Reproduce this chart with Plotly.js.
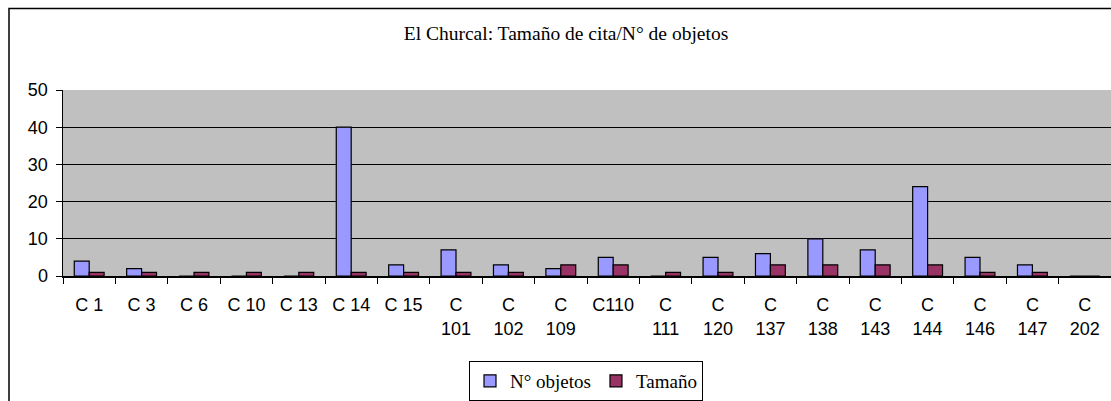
<!DOCTYPE html>
<html>
<head>
<meta charset="utf-8">
<script src="https://cdn.plot.ly/plotly-3.0.1.min.js"></script>
<style>
html,body{margin:0;padding:0;background:#fff;overflow:hidden;}
#chart{width:1111px;height:401px;}
</style>
</head>
<body>
<div id="chart"></div>
<script>
var categories = ["C 1","C 3","C 6","C 10","C 13","C 14","C 15","C<br>101","C<br>102","C<br>109","C110","C<br>111","C<br>120","C<br>137","C<br>138","C<br>143","C<br>144","C<br>146","C<br>147","C<br>202"];
var numObjetos = [4,2,0,0,0,40,3,7,3,2,5,0,5,6,10,7,24,5,3,0];
var tamano = [1,1,1,1,1,1,1,1,1,3,3,1,1,3,3,3,3,1,1,0];
var seriesNames = ["N° objetos","Tamaño"];
var titleText = "El Churcal: Tamaño de cita/N° de objetos";

var W = 1111, H = 401;
var mL = 63, mR = 0, mT = 90, mB = 124;
var plotW = W - mL - mR, plotH = H - mT - mB;
function px(x){ return (x - mL) / plotW; }          // pixel from left -> paper x
function py(t){ return (H - mB - t) / plotH; }      // pixel from top  -> paper y

var serif = "Liberation Serif";
var sans = "Liberation Sans";

var traces = [
  {type:"bar", name:seriesNames[0], x:categories, y:numObjetos,
   marker:{color:"#9999FF", line:{color:"#000000", width:1.2}}},
  {type:"bar", name:seriesNames[1], x:categories, y:tamano,
   marker:{color:"#993366", line:{color:"#000000", width:1.2}}}
];

var layout = {
  width: W, height: H,
  margin: {l:mL, r:mR, t:mT, b:mB, pad:0},
  font: {family: serif, size: 19, color: "#000"},
  paper_bgcolor: "#FFFFFF",
  plot_bgcolor: "#C0C0C0",
  barmode: "group",
  bargap: 0.43,
  bargroupgap: 0,
  showlegend: true,
  title: {
    text: titleText,
    font: {family: serif, size: 19.5, color: "#000"},
    xref: "container", x: 566/W, xanchor: "center",
    yref: "container", y: 1 - 33/H, yanchor: "middle"
  },
  xaxis: {
    type: "category",
    showline: true, linecolor: "#000", linewidth: 1.5,
    ticks: "outside", tickson: "boundaries", ticklen: 6, tickcolor: "#000", tickwidth: 1,
    tickangle: 0,
    ticklabelstandoff: 12,
    tickfont: {family: sans, size: 18, color: "#000"},
    showgrid: false, zeroline: false, fixedrange: true
  },
  yaxis: {
    range: [0, 50], dtick: 10, tick0: 0,
    showline: true, linecolor: "#000", linewidth: 1.5,
    ticks: "outside", ticklen: 6, tickcolor: "#000", tickwidth: 1,
    ticklabelstandoff: 4,
    tickfont: {family: sans, size: 18, color: "#000"},
    showgrid: true, gridcolor: "#000", gridwidth: 1,
    zeroline: false, fixedrange: true
  },
  legend: {
    orientation: "h",
    xref: "paper", yref: "paper",
    x: px(586), xanchor: "center",
    y: py(383), yanchor: "middle",
    bgcolor: "#FFFFFF", bordercolor: "#000", borderwidth: 1,
    font: {family: serif, size: 19, color: "#000"},
    itemwidth: 30, tracegroupgap: 0
  },
  shapes: [
    {type:"rect", xref:"paper", yref:"paper", layer:"below",
     x0: px(9), x1: px(1300), y0: py(700), y1: py(8),
     line:{color:"#000", width:1.5}, fillcolor:"rgba(0,0,0,0)"}
  ]
};

Plotly.newPlot("chart", traces, layout, {displayModeBar:false, staticPlot:true});
</script>
</body>
</html>
